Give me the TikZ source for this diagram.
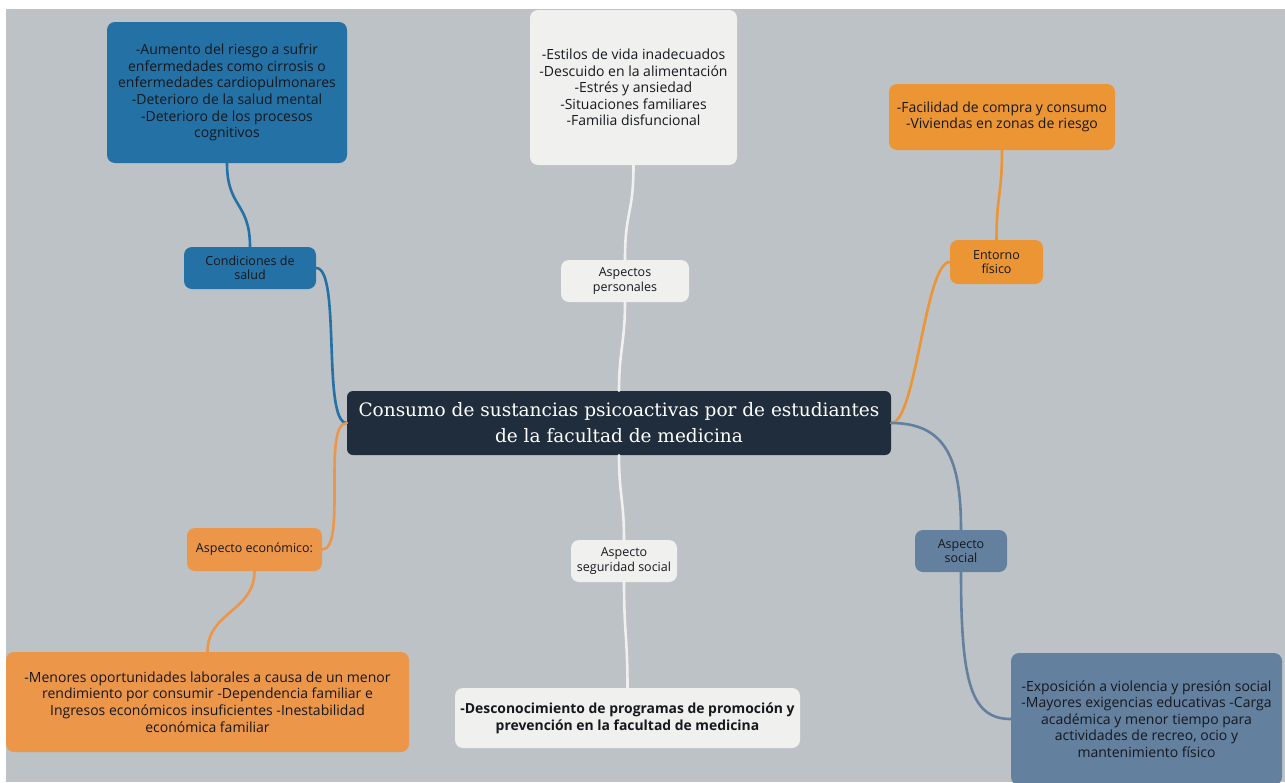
\documentclass[tikz,border=0pt]{standalone}
\usepackage{fontspec}
\setmainfont{Open Sans}
\newfontfamily\titlefont{DejaVu Serif}
\definecolor{fondo}{HTML}{BDC2C6}
\definecolor{azul}{HTML}{2471A5}
\definecolor{blanco}{HTML}{F0F0EF}
\definecolor{naranja}{HTML}{EB9534}
\definecolor{naranjab}{HTML}{EC964A}
\definecolor{central}{HTML}{1F2D3C}
\definecolor{pizarra}{HTML}{64809F}
\definecolor{texto}{HTML}{15181D}
\begin{document}
\begin{tikzpicture}[x=1pt,y=-1pt,
	caja/.style={rounded corners=8pt, inner sep=0pt, align=center, text=texto,
		font=\fontsize{14}{16.6}\selectfont},
	rama/.style={caja, font=\fontsize{12.5}{14.2}\selectfont},
	enlace/.style={line width=2.6pt, line cap=round}]
	\useasboundingbox (0,0) rectangle (1285,782);
	\fill[fondo] (6,9) rectangle (1285,782);

	%main topic
	\node[caja, fill=central, text=white, rounded corners=6pt, minimum width=544, minimum height=64,
		font=\titlefont\fontsize{18.5}{26}\selectfont] (tema) at (619,423)
		{Consumo de sustancias psicoactivas por de estudiantes\\de la facultad de medicina};

	%salud
	\node[caja, fill=azul, minimum width=240, minimum height=141] (saludbox) at (227,92.5)
		{-Aumento del riesgo a sufrir\\enfermedades como cirrosis o\\enfermedades cardiopulmonares\\-Deterioro de la salud mental\\-Deterioro de los procesos\\cognitivos};
	\node[rama, fill=azul, minimum width=132, minimum height=42] (salud) at (250,268) {Condiciones de\\salud};

	%personales
	\node[caja, fill=blanco, minimum width=207, minimum height=155] (personalbox) at (633.5,87.5)
		{-Estilos de vida inadecuados\\-Descuido en la alimentación\\-Estrés y ansiedad\\-Situaciones familiares\\-Familia disfuncional};
	\node[rama, fill=blanco, minimum width=128, minimum height=42] (personal) at (625,281) {Aspectos\\personales};

	%entorno
	\node[caja, fill=naranja, minimum width=226, minimum height=66] (fisicobox) at (1002,117)
		{-Facilidad de compra y consumo\\-Viviendas en zonas de riesgo};
	\node[rama, fill=naranja, minimum width=93, minimum height=44] (fisico) at (996.5,262) {Entorno\\físico};

	%economico
	\node[rama, fill=naranjab, minimum width=135, minimum height=43] (economico) at (254.5,549.5) {Aspecto económico:};
	\node[caja, fill=naranjab, minimum width=403, minimum height=100] (economicobox) at (207.5,702)
		{-Menores oportunidades laborales a causa de un menor\\rendimiento por consumir -Dependencia familiar e\\Ingresos económicos insuficientes -Inestabilidad\\económica familiar};

	%seguridad social
	\node[rama, fill=blanco, minimum width=106, minimum height=42] (seguridad) at (624,561) {Aspecto\\seguridad social};
	\node[caja, fill=blanco, minimum width=345, minimum height=60, font=\bfseries\fontsize{13.9}{16.8}\selectfont] (seguridadbox) at (627.5,718)
		{-Desconocimiento de programas de promoción y\\prevención en la facultad de medicina};

	%social
	\node[rama, fill=pizarra, minimum width=92, minimum height=42] (social) at (961,551) {Aspecto\\social};
	\node[caja, fill=pizarra, minimum width=271, minimum height=132] (socialbox) at (1146.5,719)
		{-Exposición a violencia y presión social\\-Mayores exigencias educativas -Carga\\académica y menor tiempo para\\actividades de recreo, ocio y\\mantenimiento físico};

	%connectors
	\draw[enlace, azul] (saludbox.south) .. controls +(0,45) and +(0,-45) .. (salud.north);
	\draw[enlace, azul] (salud.east) .. controls +(25,0) and +(-25,0) .. (tema.west);
	\draw[enlace, blanco] (personalbox.south) .. controls +(0,50) and +(0,-50) .. (personal.north);
	\draw[enlace, blanco] (personal.south) .. controls +(0,40) and +(0,-40) .. (tema.north);
	\draw[enlace, naranja] (fisicobox.south) .. controls +(0,45) and +(0,-45) .. (fisico.north);
	\draw[enlace, naranja] (fisico.west) .. controls +(-25,0) and +(25,0) .. (tema.east);
	\draw[enlace, naranjab] (economico.east) .. controls +(25,0) and +(-25,0) .. (tema.west);
	\draw[enlace, naranjab] (economico.south) .. controls +(0,40) and +(0,-40) .. (economicobox.north);
	\draw[enlace, blanco] (tema.south) .. controls +(0,40) and +(0,-40) .. (seguridad.north);
	\draw[enlace, blanco] (seguridad.south) .. controls +(0,50) and +(0,-50) .. (seguridadbox.north);
	\draw[enlace, pizarra] (tema.east) .. controls +(55,0) and +(0,-70) .. (social.north);
	\draw[enlace, pizarra] (social.south) .. controls +(0,110) and +(-40,0) .. (socialbox.west);
\end{tikzpicture}
\end{document}
